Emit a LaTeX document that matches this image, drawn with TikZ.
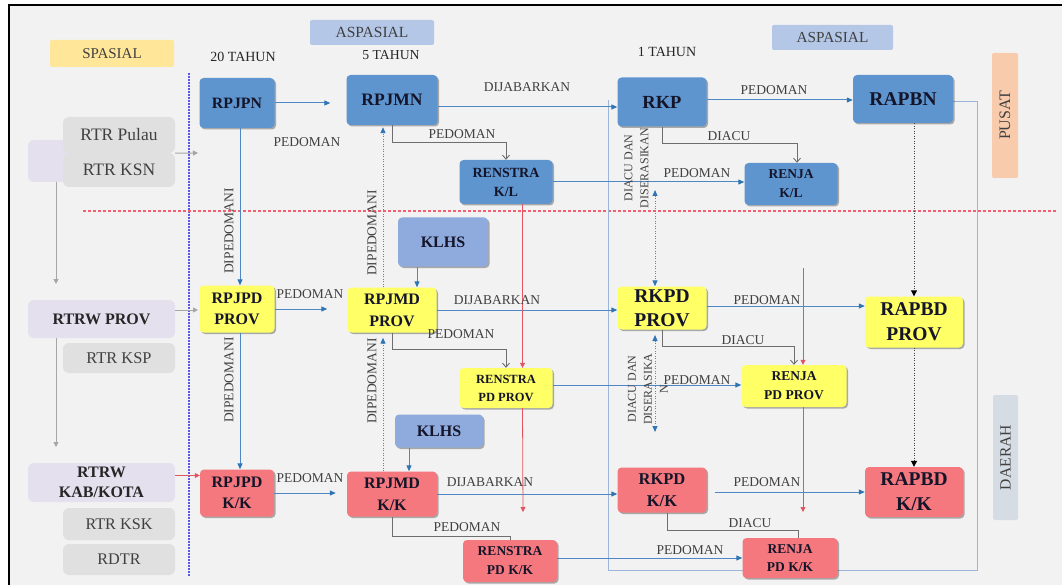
\documentclass[tikz,border=0pt]{standalone}
\usepackage{fontspec}
\setmainfont{Liberation Serif}
\usetikzlibrary{arrows.meta,shadows,calc}
\definecolor{bgc}{HTML}{F2F2F2}
\definecolor{bluec}{HTML}{5E95CF}
\definecolor{yelc}{HTML}{FFFF66}
\definecolor{redc}{HTML}{F4787E}
\definecolor{klhsc}{HTML}{8FAADC}
\definecolor{lavc}{HTML}{E4E0EE}
\definecolor{grayc}{HTML}{E0E0E0}
\definecolor{spasc}{HTML}{FFE699}
\definecolor{aspc}{HTML}{B4C7E7}
\definecolor{pusc}{HTML}{F8CBAD}
\definecolor{daec}{HTML}{D6DCE4}
\definecolor{boxtext}{HTML}{15152A}
\definecolor{lbltext}{HTML}{404040}
\definecolor{blueline}{HTML}{4F86C6}
\definecolor{bluetip}{HTML}{2E75B6}
\definecolor{grayline}{HTML}{6E6E6E}
\definecolor{redline}{HTML}{E05560}
\definecolor{loopc}{HTML}{9DB5D8}
\definecolor{vdot}{HTML}{5858E6}
\definecolor{hdash}{HTML}{F06070}
\tikzset{
  bf/.style 2 args={font=\fontsize{#1}{#2}\selectfont\bfseries},
  rg/.style 2 args={font=\fontsize{#1}{#2}\selectfont},
  bx/.style={rounded corners=4pt, inner sep=0pt, align=center, text=boxtext,
    drop shadow={shadow xshift=1.5pt, shadow yshift=-1.5pt, opacity=0.3, fill=black}},
  lbox/.style={rounded corners=6pt, inner sep=0pt, align=center, text=lbltext},
  tag/.style={rounded corners=2pt, inner sep=0pt, align=center, text=lbltext},
  lbl/.style={font=\fontsize{13.5}{15}\selectfont, text=lbltext, inner sep=0pt},
  vlbl/.style={font=\fontsize{12}{16}\selectfont, text=lbltext, inner sep=0pt, rotate=90, align=center},
  barr/.style={draw=blueline, line width=1pt, -{Triangle[length=6pt,width=5pt,color=bluetip]}},
  garr/.style={draw=grayline, line width=0.9pt, -{Straight Barb[length=4pt,width=7pt]}},
  gline/.style={draw=grayline, line width=0.9pt},
  rarr/.style={draw=redline, line width=0.8pt, -{Triangle[length=5pt,width=5pt]}},
  ltarr/.style={draw=black!35, line width=1pt, -{Triangle[length=5pt,width=5pt]}},
  kdot/.style={draw=black!75, line width=1pt, dash pattern=on 1pt off 1.5pt, -{Triangle[length=6pt,width=6pt,color=black]}},
  bdot/.style={draw=blueline, line width=1pt, dash pattern=on 1pt off 1.5pt},
  loopl/.style={draw=loopc, line width=1pt},
}
\begin{document}
\begin{tikzpicture}[x=1pt,y=-1pt]
\useasboundingbox (0,0) rectangle (1062,585);
\fill[bgc] (9,5) rectangle (1070,595);
\draw[line width=2pt] (1070,5) -- (9,5) -- (9,595);

% division lines
\coordinate (vt) at (189,73);
\coordinate (vb) at (189,576);
\draw[vdot, line width=1.8pt, dash pattern=on 1.6pt off 1.4pt] (vt) -- (vb);
\coordinate (hl) at (83,211);
\coordinate (hr) at (1056,211);
\draw[hdash, line width=1.6pt, dash pattern=on 3pt off 2pt] (hl) -- (hr);

% feedback loop
\coordinate (loopbr) at (977,570);
\coordinate (looptop) at (608,100);

% header tags
\node[tag, fill=spasc, minimum width=124pt, minimum height=27pt, rg={15}{17}] (spasial) at (112,53.5) {SPASIAL};
\node[tag, fill=aspc, minimum width=124pt, minimum height=25pt, rg={15.5}{17}] (asp1) at (372,32.5) {ASPASIAL};
\node[tag, fill=aspc, minimum width=121pt, minimum height=25pt, rg={15.3}{17}] (asp2) at (832.5,37.5) {ASPASIAL};
\node[tag, fill=pusc, rotate=90, minimum width=125pt, minimum height=26pt, rg={16}{18}] (pusat) at (1005,115.5) {PUSAT};
\node[tag, fill=daec, rotate=90, minimum width=125pt, minimum height=25pt, rg={15.6}{18}] (daerah) at (1005.5,457.5) {DAERAH};
\node[lbl, rg={14}{16}, text=black!85] (t20) at (243,57) {20 TAHUN};
\node[lbl, rg={13.7}{16}, text=black!85] (t5) at (391,55) {5 TAHUN};
\node[lbl, rg={14}{16}, text=black!85] (t1) at (667,52) {1 TAHUN};

% left spatial boxes
\node[lbox, fill=lavc, minimum width=82pt, minimum height=42pt] (nasback) at (69,161) {};
\node[lbox, fill=grayc, minimum width=112pt, minimum height=36pt, rg={17.5}{19}] (rtrpulau) at (119,135) {RTR Pulau};
\node[lbox, fill=grayc, minimum width=112pt, minimum height=34pt, rg={17.5}{19}] (rtrksn) at (119,170) {RTR KSN};
\node[lbox, fill=lavc, minimum width=147pt, minimum height=38pt, bf={16}{19}, text=black!85] (rtrwprov) at (101.5,319) {RTRW PROV};
\node[lbox, fill=grayc, minimum width=112pt, minimum height=30pt, rg={16.4}{18}] (rtrksp) at (119,358) {RTR KSP};
\node[lbox, fill=lavc, minimum width=147pt, minimum height=39pt, bf={16}{20}, text=black!85] (rtrwkk) at (101.5,482.5) {RTRW\\KAB/KOTA};
\node[lbox, fill=grayc, minimum width=112pt, minimum height=32pt, rg={16.2}{18}] (rtrksk) at (119,524) {RTR KSK};
\node[lbox, fill=grayc, minimum width=112pt, minimum height=31pt, rg={16.2}{18}] (rdtr) at (119,559.5) {RDTR};

\coordinate (g1a) at (56,182);
\coordinate (g1b) at (56,284);
\coordinate (g2a) at (56,338);
\coordinate (g2b) at (56,447);
\draw[ltarr] (g1a) -- (g1b);
\draw[ltarr] (g2a) -- (g2b);
\coordinate (p1) at (198,153);
\coordinate (p2) at (198,310);
\draw[ltarr] (rtrpulau.south east) -- (p1);
\draw[ltarr] (rtrwprov.east |- p2) -- (p2);

\draw[loopl] (953,102) -| (loopbr) -| (looptop);

% blue (pusat) row
\node[bx, fill=bluec, minimum width=75pt, minimum height=50pt, bf={15.8}{18}] (rpjpn) at (237,103) {RPJPN};
\node[bx, fill=bluec, minimum width=91pt, minimum height=50pt, bf={17.5}{20}] (rpjmn) at (392,100) {RPJMN};
\node[bx, fill=bluec, minimum width=89pt, minimum height=49pt, bf={18.5}{20}] (rkp) at (662,102) {RKP};
\node[bx, fill=bluec, minimum width=100pt, minimum height=48pt, bf={19.5}{22}] (rapbn) at (903,99) {RAPBN};
\node[bx, fill=bluec, minimum width=93pt, minimum height=44pt, bf={14}{19}] (renstrakl) at (506,182) {RENSTRA\\K/L};
\node[bx, fill=bluec, minimum width=93pt, minimum height=42pt, bf={13.5}{19}] (renjakl) at (791,184) {RENJA\\K/L};

% KLHS
\node[bx, fill=klhsc, minimum width=90pt, minimum height=49pt, bf={16}{18}] (klhs1) at (443,242) {KLHS};
\node[bx, fill=klhsc, minimum width=88pt, minimum height=33pt, bf={16}{18}] (klhs2) at (439,431) {KLHS};

% yellow (prov) row
\node[bx, fill=yelc, minimum width=75pt, minimum height=47pt, bf={16}{21}] (rpjpdprov) at (237,309) {RPJPD\\PROV};
\node[bx, fill=yelc, minimum width=89pt, minimum height=45pt, bf={16}{22}] (rpjmdprov) at (392,310) {RPJMD\\PROV};
\node[bx, fill=yelc, minimum width=89pt, minimum height=43pt, bf={19.5}{24}] (rkpdprov) at (662,308) {RKPD\\PROV};
\node[bx, fill=yelc, minimum width=98pt, minimum height=51pt, bf={19.5}{25}] (rapbdprov) at (914,322) {RAPBD\\PROV};
\node[bx, fill=yelc, minimum width=93pt, minimum height=40pt, bf={12.5}{18}] (renstrapdprov) at (506,388) {RENSTRA\\PD PROV};
\node[bx, fill=yelc, minimum width=105pt, minimum height=42pt, bf={13.5}{19}] (renjapdprov) at (794,386) {RENJA\\PD PROV};

% red (kab/kota) row
\node[bx, fill=redc, minimum width=74pt, minimum height=47pt, bf={16}{21}] (rpjpdkk) at (237,493) {RPJPD\\K/K};
\node[bx, fill=redc, minimum width=90pt, minimum height=45pt, bf={16}{22}] (rpjmdkk) at (392,494) {RPJMD\\K/K};
\node[bx, fill=redc, minimum width=89pt, minimum height=45pt, bf={16.5}{22}] (rkpdkk) at (662,490) {RKPD\\K/K};
\node[bx, fill=redc, minimum width=98pt, minimum height=50pt, bf={19.5}{25}] (rapbdkk) at (914,492) {RAPBD\\K/K};
\node[bx, fill=redc, minimum width=94pt, minimum height=42pt, bf={13.5}{19}] (renstrapdkk) at (510,561) {RENSTRA\\PD K/K};
\node[bx, fill=redc, minimum width=95pt, minimum height=40pt, bf={13.5}{18}] (renjapdkk) at (790,558) {RENJA\\PD K/K};

% red arrow from RTRW KAB/KOTA
\draw[rarr] ($(rtrwkk.east)+(0,-7)$) -- ($(rtrwkk.east -| rpjpdkk.west)+(0,-7)$);

% pusat row connectors
\draw[barr, shorten >=16pt] (rpjpn.east) -- (rpjpn.east -| rpjmn.west);
\draw[barr] ($(rpjmn.east)+(0,7)$) -- ($(rpjmn.east -| rkp.west)+(0,7)$);
\draw[barr] ($(rkp.east)+(0,-2)$) -- ($(rkp.east -| rapbn.west)+(0,-2)$);
\draw[garr] (rpjmn.south) -- ++(0,17) -| (renstrakl.north);
\draw[garr] (rkp.south) -- ++(0,17) -| ($(renjakl.north)+(6,0)$);
\draw[barr] (renstrakl.east) -- (renstrakl.east -| renjakl.west);
\draw[kdot] (rapbdprov.north |- rapbn.south) -- (rapbdprov.north);
\draw[kdot] (rapbdprov.south) -- (rapbdkk.north);

% left column
\draw[barr] ($(rpjpn.south)+(3,0)$) -- ($(rpjpdprov.north)+(3,0)$);
\draw[barr] ($(rpjpdprov.south)+(3,0)$) -- ($(rpjpdkk.north)+(3,0)$);
\draw[barr, shorten >=20pt] (rpjpdprov.east) -- (rpjpdprov.east -| rpjmdprov.west);
\draw[barr, shorten >=11pt] (rpjpdkk.east) -- (rpjpdkk.east -| rpjmdkk.west);

% RPJM column dotted
\draw[bdot, -{Triangle[length=6pt,width=5pt,color=bluetip]}, shorten >=2pt] ($(rpjmdprov.north)+(-9,0)$) -- ($(rpjmn.south)+(-9,0)$);
\draw[bdot, -{Triangle[length=6pt,width=5pt,color=bluetip]}, shorten >=5pt] ($(rpjmdkk.north)+(-9,0)$) -- ($(rpjmdprov.south)+(-9,0)$);
\coordinate (k1a) at ($(klhs1.south)+(-26,0)$);
\draw[barr] (k1a) -- (k1a |- rpjmdprov.north);
\coordinate (k2a) at ($(klhs2.south)+(-30,0)$);
\draw[barr] (k2a) -- (k2a |- rpjmdkk.north);

% prov row
\draw[barr] (rpjmdprov.east) -- (rpjmdprov.east -| rkpdprov.west);
\draw[garr] (rpjmdprov.south) -- ++(0,17) -| (renstrapdprov.north);
\draw[garr] (rkpdprov.south) -- ++(0,17) -| (renjapdprov.north);
\draw[barr] ($(rkpdprov.east)+(0,-2)$) -- ($(rkpdprov.east -| rapbdprov.west)+(0,-2)$);
\draw[barr] ($(renstrapdprov.east)+(0,-3)$) -- ($(renstrapdprov.east -| renjapdprov.west)+(0,-3)$);

% kab/kota row
\draw[barr] (rpjmdkk.east) -- (rpjmdkk.east -| rkpdkk.west);
\draw[gline] (rpjmdkk.south) -- ++(0,20) -| (renstrapdkk.north);
\draw[gline] ($(rkpdkk.south)+(5,0)$) -- ++(0,18) -| ($(renjapdkk.north)+(8,0)$);
\draw[barr, shorten <=8pt] ($(rkpdkk.east)+(0,2)$) -- ($(rkpdkk.east -| rapbdkk.west)+(0,2)$);
\draw[barr] ($(renstrapdkk.east)+(0,-3)$) -- ($(renstrapdkk.east -| renjapdkk.west)+(0,-3)$);

% red vertical links
\draw[rarr] ($(renstrakl.south)+(16.5,0)$) -- ($(renstrapdprov.north)+(16.5,0)$);
\coordinate (r2end) at (523,512);
\draw[rarr] ($(renstrapdprov.south)+(16.5,0)$) -- (r2end);
\coordinate (r3start) at (803,268);
\draw[rarr] (r3start) -- (r3start |- renjapdprov.north);
\coordinate (r4end) at (803,512);
\draw[rarr] (r4end |- renjapdprov.south) -- (r4end);

% DIACU DAN DISERASIKAN dotted links
\coordinate (d1) at (655,190);
\draw[bdot, {Triangle[length=6pt,width=5pt,color=bluetip]}-{Triangle[length=6pt,width=5pt,color=bluetip]}] (d1) -- (d1 |- rkpdprov.north);
\coordinate (d2a) at (655,335);
\coordinate (d2b) at (655,432);
\draw[bdot, {Triangle[length=6pt,width=5pt,color=bluetip]}-{Triangle[length=6pt,width=5pt,color=bluetip]}] (d2a) -- (d2b);

% connector labels
\node[lbl] (l1) at (307,142) {PEDOMAN};
\node[lbl] (l2) at (527,87) {DIJABARKAN};
\node[lbl] (l3) at (774,90) {PEDOMAN};
\node[lbl] (l4) at (462,134) {PEDOMAN};
\node[lbl] (l5) at (729,136) {DIACU};
\node[lbl] (l6) at (697,173) {PEDOMAN};
\node[lbl] (l7) at (310,294) {PEDOMAN};
\node[lbl] (l8) at (497,300) {DIJABARKAN};
\node[lbl] (l9) at (767,300) {PEDOMAN};
\node[lbl] (l10) at (461,334) {PEDOMAN};
\node[lbl] (l11) at (743,340) {DIACU};
\node[lbl] (l12) at (697,380) {PEDOMAN};
\node[lbl] (l13) at (310,478) {PEDOMAN};
\node[lbl] (l14) at (490,482) {DIJABARKAN};
\node[lbl] (l15) at (767,482) {PEDOMAN};
\node[lbl] (l16) at (467,527) {PEDOMAN};
\node[lbl] (l17) at (750,523) {DIACU};
\node[lbl] (l18) at (690,550) {PEDOMAN};
\node[lbl, rotate=90] (dp1) at (229,231) {DIPEDOMANI};
\node[lbl, rotate=90] (dp2) at (229,380) {DIPEDOMANI};
\node[lbl, rotate=90] (dp3) at (372,233) {DIPEDOMANI};
\node[lbl, rotate=90] (dp4) at (372,381) {DIPEDOMANI};
\node[vlbl] (ds1) at (636.5,168) {DIACU DAN\\DISERASIKAN};
\node[vlbl] (ds2) at (648,389) {DIACU DAN\\DISERASIKA\\N};
\end{tikzpicture}
\end{document}
